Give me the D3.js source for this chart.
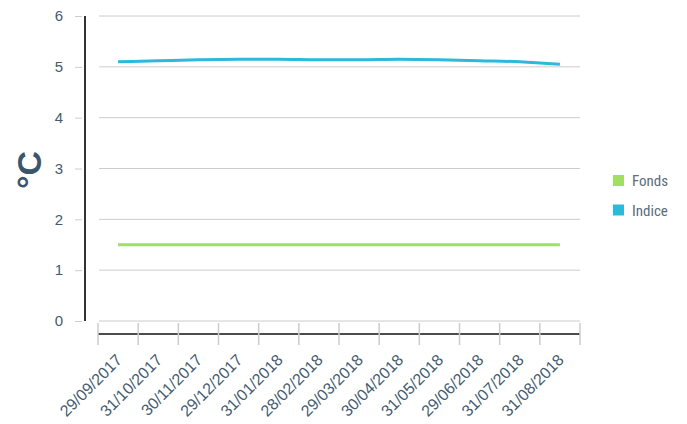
<!DOCTYPE html>
<html>
<head>
<meta charset="utf-8">
<script src="https://cdn.jsdelivr.net/npm/d3@7"></script>
<style>
  body { margin: 0; background: #fff; }
  svg text { font-family: "Liberation Sans", Arial, sans-serif; }
</style>
</head>
<body>
<svg id="chart"></svg>
<script>
// chart data
const dates = ["29/09/2017", "31/10/2017", "30/11/2017", "29/12/2017", "31/01/2018", "28/02/2018",
               "29/03/2018", "30/04/2018", "31/05/2018", "29/06/2018", "31/07/2018", "31/08/2018"];
const fonds = [1.5, 1.5, 1.5, 1.5, 1.5, 1.5, 1.5, 1.5, 1.5, 1.5, 1.5, 1.5];
const indice = [5.10, 5.12, 5.14, 5.15, 5.15, 5.14, 5.14, 5.15, 5.14, 5.12, 5.10, 5.05];
const yTicks = [0, 1, 2, 3, 4, 5, 6];
const seriesNames = ["Fonds", "Indice"];
const colors = ["#a0df62", "#2cb9da"];

const width = 687, height = 424;
const svg = d3.select("#chart").attr("width", width).attr("height", height);

// scales
const x = d3.scaleBand().domain(dates).range([98, 580]);
const y = d3.scaleLinear().domain([0, 6]).range([321, 16]);

const textColor = "#445b6e";

// gridlines
svg.append("g")
    .selectAll("line")
    .data(yTicks)
    .join("line")
    .attr("x1", 99).attr("x2", 580)
    .attr("y1", d => y(d)).attr("y2", d => y(d))
    .attr("stroke", "#cccccc").attr("stroke-width", 1);

// y axis
const yAxis = svg.append("g")
    .attr("transform", "translate(85,0)")
    .call(d3.axisLeft(y).tickValues(yTicks).tickFormat(d3.format("d")).tickSize(10).tickPadding(12).tickSizeOuter(0));
yAxis.select(".domain").attr("stroke", "#333").attr("stroke-width", 2).attr("d", `M0,${y(6)}V${y(0)}`);
yAxis.selectAll(".tick line").attr("stroke", "#cccccc").attr("x1", -10).attr("x2", -3);
yAxis.selectAll(".tick text").attr("fill", textColor).style("font-size", "15px");

// x axis
const xAxis = svg.append("g")
    .attr("transform", "translate(0,334)");
xAxis.append("line")
    .attr("x1", 98).attr("x2", 580).attr("y1", 0).attr("y2", 0)
    .attr("stroke", "#111").attr("stroke-width", 1.5);
const tickPos = dates.map(d => x(d)).concat([x.range()[1]]);
xAxis.selectAll(".tk")
    .data(tickPos)
    .join("line")
    .attr("class", "tk")
    .attr("x1", d => d).attr("x2", d => d)
    .attr("y1", -11).attr("y2", 11)
    .attr("stroke", "#cccccc").attr("stroke-width", 1.5);
xAxis.selectAll(".lbl")
    .data(dates)
    .join("text")
    .attr("class", "lbl")
    .attr("text-anchor", "end")
    .attr("fill", textColor)
    .style("font-size", "16px")
    .attr("transform", d => `translate(${x(d) + x.bandwidth() / 2 + 5},${27}) rotate(-45)`)
    .text(d => d);

// y axis title
svg.append("text")
    .attr("transform", "translate(41,170) rotate(-90)")
    .attr("text-anchor", "middle")
    .attr("fill", "#3b566a")
    .style("font-size", "34px")
    .style("font-weight", "bold")
    .text("°C");

// lines
const line = d3.line()
    .x((d, i) => x(dates[i]) + x.bandwidth() / 2)
    .y(d => y(d))
    .curve(d3.curveMonotoneX);

[fonds, indice].forEach((s, i) => {
    svg.append("path")
        .datum(s)
        .attr("fill", "none")
        .attr("stroke", colors[i])
        .attr("stroke-width", 3)
        .attr("d", line);
});

// legend
const legend = svg.append("g").attr("transform", "translate(613,175)");
seriesNames.forEach((n, i) => {
    const g = legend.append("g").attr("transform", `translate(0,${i * 29.5})`);
    g.append("rect").attr("width", 11).attr("height", 11).attr("fill", colors[i]);
    g.append("text").attr("x", 19).attr("y", 11)
        .attr("fill", "#5a6d7c")
        .style("font-family", "Roboto, sans-serif")
        .style("font-size", "15px")
        .style("font-stretch", "condensed")
        .text(n);
});
</script>
</body>
</html>
